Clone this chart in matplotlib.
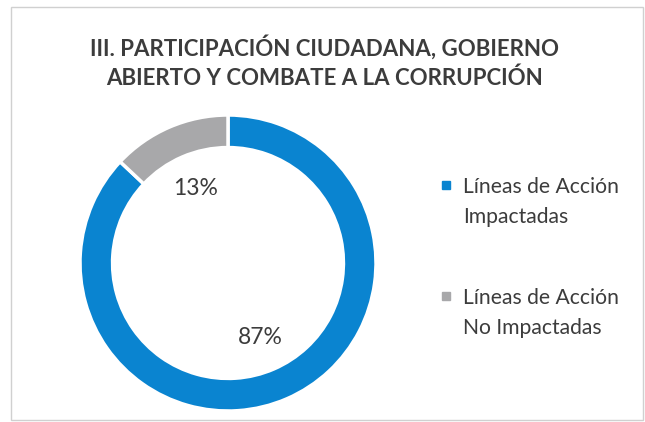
import matplotlib.pyplot as plt
from matplotlib.legend_handler import HandlerLine2D
from matplotlib.lines import Line2D
from matplotlib.patches import Rectangle

plt.rcParams["font.family"] = ["Lato", "DejaVu Sans"]

TITLE = "III. PARTICIPACIÓN CIUDADANA, GOBIERNO\nABIERTO Y COMBATE A LA CORRUPCIÓN"
categories = ["Líneas de Acción\nImpactadas", "Líneas de Acción\nNo Impactadas"]
shares = [87, 13]
colors = ["#0a84d0", "#a8a8aa"]
TEXT_COLOR = "#3c3c3c"


class FirstLineHandler(HandlerLine2D):
    # put the legend square next to the first line of a two-line label
    def create_artists(self, legend, orig_handle, xdescent, ydescent, width, height, fontsize, trans):
        return super().create_artists(legend, orig_handle, xdescent, ydescent - 1.68 * fontsize,
                                      width, height, fontsize, trans)


fig = plt.figure(figsize=(6.45, 4.22), dpi=100)
fig.patch.set_facecolor("white")

# faint frame of the chart area
fig.add_artist(Rectangle((11 / 645, 2 / 422), 632 / 645, 413 / 422, transform=fig.transFigure,
                         fill=False, edgecolor="#d0d0d0", linewidth=1))

fig.text(0.503, 1 - 61.5 / 422, TITLE, ha="center", va="center", fontsize=16.0, fontweight="bold",
         color=TEXT_COLOR, linespacing=1.45)

ax = fig.add_axes([80 / 645, 11 / 422, 296 / 645, 296 / 422])
wedges, texts, autotexts = ax.pie(
    shares,
    colors=colors,
    startangle=90,
    counterclock=False,
    radius=1.0,
    autopct=lambda p: f"{p:.0f}%",
    pctdistance=0.55,
    wedgeprops=dict(width=0.22, edgecolor="white", linewidth=2.5),
    textprops=dict(fontsize=16.5, color=TEXT_COLOR),
)
ax.set_xlim(-1, 1)
ax.set_ylim(-1, 1)
ax.set_aspect("equal")

handles = [Line2D([], [], marker="s", linestyle="", markersize=6, markerfacecolor=c,
                  markeredgecolor=c) for c in colors]
leg = fig.legend(handles, categories, loc="upper left", bbox_to_anchor=(440 / 645, 1 - 177 / 422),
                 frameon=False, fontsize=15.2, handlelength=0.6, handletextpad=0.5,
                 labelspacing=2.9, labelcolor=TEXT_COLOR, borderaxespad=0, borderpad=0,
                 handler_map={Line2D: FirstLineHandler()})
for t in leg.get_texts():
    t.set_linespacing(1.62)

fig.savefig("out.png", dpi=100)
